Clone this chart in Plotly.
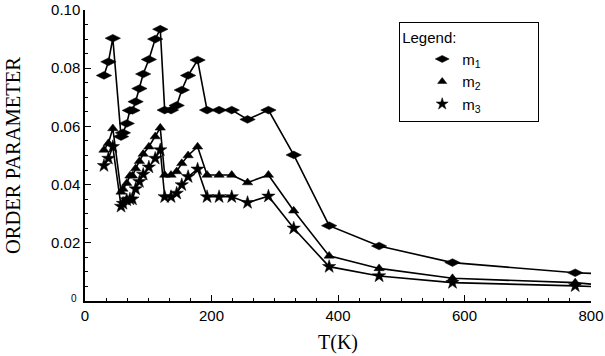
import plotly.graph_objects as go

T = [30, 37, 44, 57, 60, 66, 71, 75, 80, 86, 92, 101, 111, 119, 126, 136, 145, 153, 163, 178,
     193, 212, 232, 257, 290, 330, 386, 465, 581, 775, 800]
m1 = [0.0775, 0.0822, 0.0903, 0.0565, 0.0578, 0.0610, 0.0655, 0.0655, 0.0685, 0.0730, 0.0780, 0.0830,
      0.0900, 0.0934, 0.0656, 0.0656, 0.0672, 0.0725, 0.0775, 0.0828, 0.0656, 0.0656, 0.0656, 0.0624,
      0.0656, 0.0502, 0.0259, 0.0189, 0.0132, 0.0097, 0.0095]
m2 = [0.0519, 0.0542, 0.0593, 0.0375, 0.0385, 0.0405, 0.0430, 0.0430, 0.0455, 0.0480, 0.0505, 0.0530,
      0.0565, 0.0595, 0.0433, 0.0433, 0.0445, 0.0473, 0.0500, 0.0530, 0.0433, 0.0433, 0.0433, 0.0407,
      0.0433, 0.0310, 0.0155, 0.0112, 0.0078, 0.0063, 0.0058]
m3 = [0.0465, 0.0490, 0.0530, 0.0325, 0.0335, 0.0347, 0.0350, 0.0350, 0.0385, 0.0410, 0.0435, 0.0460,
      0.0490, 0.0519, 0.0358, 0.0358, 0.0370, 0.0399, 0.0427, 0.0453, 0.0358, 0.0358, 0.0358, 0.0338,
      0.0360, 0.0250, 0.0118, 0.0086, 0.0063, 0.0052, 0.0050]
names = ["m<sub>1</sub>", "m<sub>2</sub>", "m<sub>3</sub>"]
symbols = ["diamond-wide", "triangle-up", "star"]
sizes = [11, 9, 10]
x_ticks = [0, 200, 400, 600, 800]
y_ticks = [0.02, 0.04, 0.06, 0.08, 0.10]

fig = go.Figure()
for ys, nm, sym, sz in zip([m1, m2, m3], names, symbols, sizes):
    msize = [sz] * (len(T) - 1) + [0]
    fig.add_trace(go.Scatter(x=T, y=ys, mode="lines+markers", showlegend=False,
                             line=dict(color="black", width=1.6),
                             marker=dict(symbol=sym, size=msize, color="black", opacity=1,
                                         line=dict(color="black", width=0.5))))
    fig.add_trace(go.Scatter(x=[None], y=[None], mode="markers", name=nm,
                             marker=dict(symbol=sym, size=sz - 1, color="black", opacity=1,
                                         line=dict(color="black", width=0.5))))

axis_common = dict(showline=True, linecolor="black", linewidth=1.5, mirror=False, automargin=False,
                   showgrid=False, zeroline=False, ticks="inside", ticklen=6, tickwidth=1.2,
                   tickcolor="black", tickfont=dict(family="Liberation Sans", size=15, color="black"))

fig.update_xaxes(range=[0, 800], tickvals=x_ticks, ticktext=[str(v) for v in x_ticks],
                 minor=dict(dtick=200 / 6, ticks="inside", ticklen=3, tickcolor="black"),
                 title=dict(text="T(K)", font=dict(family="Liberation Serif", size=20, color="black"),
                            standoff=12),
                 **axis_common)
fig.update_yaxes(range=[0, 0.10], tickvals=y_ticks, ticktext=["%.2f" % v for v in y_ticks],
                 minor=dict(dtick=0.005, ticks="inside", ticklen=3, tickcolor="black"),
                 title=dict(text="ORDER PARAMETER", font=dict(family="Liberation Serif", size=20.5, color="black"),
                            standoff=25),
                 **axis_common)

fig.add_annotation(x=0, y=0, xref="x", yref="y", text="0", showarrow=False,
                   xanchor="right", yanchor="middle", xshift=-6, yshift=3,
                   font=dict(family="Liberation Sans", size=10, color="black"))

fig.update_layout(
    width=605, height=356,
    margin=dict(l=85, r=14, t=10, b=55),
    plot_bgcolor="white", paper_bgcolor="white",
    legend=dict(x=(399 - 85) / 506, y=(301 - 22) / 291, xanchor="left", yanchor="top",
                bordercolor="black", borderwidth=1.2, bgcolor="white",
                title=dict(text="Legend:" + "&nbsp;" * 19,
                           font=dict(family="Liberation Sans", size=15, color="black")),
                font=dict(family="Liberation Sans", size=15, color="black"),
                indentation=22, itemwidth=30, tracegroupgap=0),
)

fig.write_html("out.html")
